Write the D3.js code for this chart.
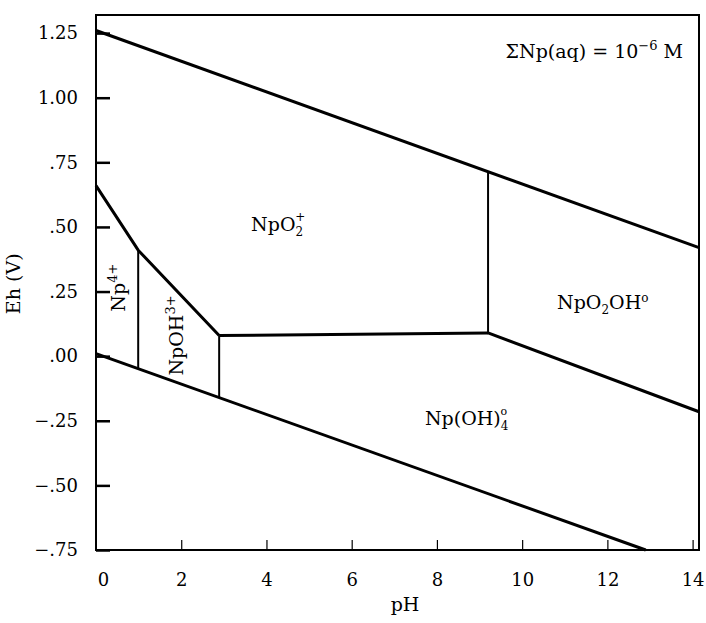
<!DOCTYPE html>
<html>
<head>
<meta charset="utf-8">
<script src="https://cdn.jsdelivr.net/npm/d3@7"></script>
<style>
  body { margin: 0; background: #fff; }
  text { font-family: "DejaVu Serif", "Liberation Serif", serif; fill: #000; }
</style>
</head>
<body>
<script>
const width = 706;
const height = 623;

// axis ticks
const phTicks = [0, 2, 4, 6, 8, 10, 12, 14];
const ehTicks = [1.25, 1.00, 0.75, 0.50, 0.25, 0.00, -0.25, -0.50, -0.75];
const ehTickLabels = ["1.25", "1.00", ".75", ".50", ".25", ".00", "\u2212.25", "\u2212.50", "\u2212.75"];

// stability field boundaries, [pH, Eh]
const upperWater = [[0, 1.26], [14.15, 0.42]];
const lowerWater = [[0, 0.01], [12.9, -0.75]];
const np4Boundary = [[0, 0.66], [0.99, 0.41], [2.89, 0.08]];
const npo2Boundary = [[2.89, 0.08], [9.2, 0.09]];
const npo2ohBoundary = [[9.2, 0.09], [14.15, -0.215]];
const verticals = [
  [[0.99, 0.41], [0.99, -0.048]],
  [[2.89, 0.08], [2.89, -0.16]],
  [[9.2, 0.09], [9.2, 0.714]]
];

const margin = { left: 96, right: 7, top: 15, bottom: 73 };
const font = "DejaVu Serif";

const svg = d3.select("body")
  .append("svg")
  .attr("width", width)
  .attr("height", height);

const x = d3.scaleLinear()
  .domain([0, 14.15])
  .range([margin.left, width - margin.right]);

const y = d3.scaleLinear()
  .domain([-0.75, 1.32])
  .range([height - margin.bottom, margin.top]);

// frame
svg.append("rect")
  .attr("x", x(0))
  .attr("y", y(1.32))
  .attr("width", x(14.15) - x(0))
  .attr("height", y(-0.75) - y(1.32))
  .attr("fill", "none")
  .attr("stroke", "#000")
  .attr("stroke-width", 2);

// y axis, ticks pointing inward
const yAxis = svg.append("g")
  .attr("transform", `translate(${x(0)},0)`)
  .call(d3.axisLeft(y)
    .tickValues(ehTicks)
    .tickSize(-14)
    .tickPadding(18)
    .tickFormat((d, i) => ehTickLabels[i]));
yAxis.select(".domain").remove();
yAxis.selectAll(".tick line").attr("stroke-width", 2.5);
yAxis.selectAll(".tick text")
  .style("font-size", "18px")
  .style("font-family", font);

// x axis, small inward ticks
const xAxis = svg.append("g")
  .attr("transform", `translate(0,${y(-0.75)})`)
  .call(d3.axisBottom(x)
    .tickValues(phTicks)
    .tickSize(-10)
    .tickPadding(23)
    .tickFormat(d3.format("d")));
xAxis.select(".domain").remove();
xAxis.selectAll(".tick line")
  .attr("stroke-width", 1.2)
  .filter(d => d === 0).remove();
xAxis.selectAll(".tick text")
  .style("font-size", "18px")
  .style("font-family", font)
  .attr("dx", d => d === 0 ? 7 : 0);

// boundaries
const line = d3.line().x(d => x(d[0])).y(d => y(d[1]));

svg.selectAll(".bound")
  .data([upperWater, lowerWater, np4Boundary, npo2Boundary, npo2ohBoundary])
  .enter()
  .append("path")
  .attr("class", "bound")
  .attr("d", line)
  .attr("fill", "none")
  .attr("stroke", "#000")
  .attr("stroke-width", 3)
  .attr("stroke-linejoin", "round");

svg.selectAll(".vert")
  .data(verticals)
  .enter()
  .append("path")
  .attr("class", "vert")
  .attr("d", line)
  .attr("fill", "none")
  .attr("stroke", "#000")
  .attr("stroke-width", 2);

// axis titles
svg.append("text")
  .attr("x", 405)
  .attr("y", 611)
  .attr("text-anchor", "middle")
  .style("font-size", "19px")
  .text("pH");

svg.append("text")
  .attr("transform", `translate(20,${y(0.28)}) rotate(-90)`)
  .attr("text-anchor", "middle")
  .style("font-size", "19px")
  .text("Eh (V)");

// condition note
const note = svg.append("text")
  .attr("x", 683)
  .attr("y", 58)
  .attr("text-anchor", "end")
  .style("font-size", "19px");
note.append("tspan").text("\u03A3Np(aq) = 10");
note.append("tspan").attr("dy", -8).style("font-size", "13px").text("\u22126");
note.append("tspan").attr("dy", 8).text(" M");

// field labels
const npo2 = svg.append("text")
  .attr("x", x(3.64)).attr("y", y(0.484))
  .style("font-size", "19px");
npo2.append("tspan").text("NpO");
npo2.append("tspan").attr("dy", 5).style("font-size", "12px").text("2");
npo2.append("tspan").attr("dx", -8).attr("dy", -15).style("font-size", "12px").text("+");

const npo2oh = svg.append("text")
  .attr("x", x(10.82)).attr("y", y(0.182))
  .style("font-size", "19px");
npo2oh.append("tspan").text("NpO");
npo2oh.append("tspan").attr("dy", 5).style("font-size", "12px").text("2");
npo2oh.append("tspan").attr("dy", -5).text("OH");
npo2oh.append("tspan").attr("dy", -7).style("font-size", "12px").text("o");

const npoh4 = svg.append("text")
  .attr("x", x(7.72)).attr("y", y(-0.266))
  .style("font-size", "19px");
npoh4.append("tspan").text("Np(OH)");
npoh4.append("tspan").attr("dy", 5).style("font-size", "12px").text("4");
npoh4.append("tspan").attr("dx", -8).attr("dy", -15).style("font-size", "11px").text("o");

const np4 = svg.append("text")
  .attr("transform", `translate(${x(0.68)},${y(0.265)}) rotate(-90)`)
  .attr("text-anchor", "middle")
  .style("font-size", "19px");
np4.append("tspan").text("Np");
np4.append("tspan").attr("dy", -8).style("font-size", "13px").text("4+");

const npoh = svg.append("text")
  .attr("transform", `translate(${x(2.03)},${y(0.08)}) rotate(-90)`)
  .attr("text-anchor", "middle")
  .style("font-size", "19px");
npoh.append("tspan").text("NpOH");
npoh.append("tspan").attr("dy", -8).style("font-size", "13px").text("3+");
</script>
</body>
</html>
